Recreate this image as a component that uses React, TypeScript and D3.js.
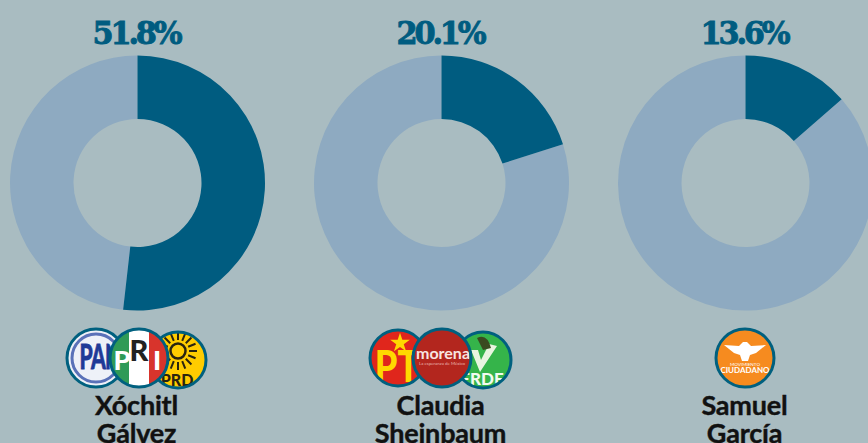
import React from "react";
import * as d3 from "d3";

const W = 868, H = 443;
const candidateFirst = ["Xóchitl", "Claudia", "Samuel"];
const candidateLast = ["Gálvez", "Sheinbaum", "García"];
const shares = [51.8, 20.1, 13.6];
const labels = ["51.8%", "20.1%", "13.6%"];
const centers = [137.5, 441.5, 745.5];

const arcGen = d3.arc<any>().innerRadius(64).outerRadius(127.5);
const pieGen = d3.pie<number>().sort(null);

const ring = "#00607f";
function Badge({ id, x, y, r, fill, children }: any) {
  return (
    <g transform={`translate(${x},${y})`}>
      <clipPath id={id}><circle r={r} /></clipPath>
      <circle r={r} fill={fill} />
      <g clipPath={`url(#${id})`}>{children}</g>
      <circle r={r} fill="none" stroke={ring} strokeWidth={3} />
    </g>
  );
}
const sans = "Lato, sans-serif";

export default function App() {
  return (
    <svg width={W} height={H} style={{ position: "absolute", left: 0, top: 0, display: "block" }}>
      <rect width={W} height={H} fill="#a9bcc1" />
      {shares.map((s, i) => {
        const arcs = pieGen([s, 100 - s]);
        return (
          <g key={i} transform={`translate(${centers[i]},183)`}>
            <path d={arcGen(arcs[1]) as string} fill="#8eaac1" />
            <path d={arcGen(arcs[0]) as string} fill="#005c80" />
            <text transform="translate(-1.5,-139) scale(0.95,1)" textAnchor="middle" fontFamily="'DejaVu Serif', serif" fontWeight={700} fontSize={32} letterSpacing={-3.4} fill="#005c80" stroke="#005c80" strokeWidth={0.9}>{labels[i]}</text>
          </g>
        );
      })}
      {candidateFirst.map((n, i) => (
        <text key={n} textAnchor="middle" fontFamily={sans} fontWeight={700} fontSize={27} letterSpacing={-0.2} fill="#111" stroke="#111" strokeWidth={0.4} transform="translate(-1,0)">
          <tspan x={centers[i]} y={415}>{n}</tspan>
          <tspan x={centers[i]} y={443}>{candidateLast[i]}</tspan>
        </text>
      ))}

      {/* PRD */}
      <Badge id="prd" x={178} y={360} r={28} fill="#ffcc00">
        <g stroke="#2a2410" strokeWidth={2}>
          {d3.range(16).map((k) => {
            const a = (k * Math.PI) / 8;
            return <line key={k} x1={11 * Math.cos(a)} y1={-9 + 11 * Math.sin(a)} x2={19 * Math.cos(a)} y2={-9 + 19 * Math.sin(a)} />;
          })}
        </g>
        <circle cy={-9} r={7.5} fill="none" stroke="#2a2410" strokeWidth={2.5} />
        <text x={-1} y={26} textAnchor="middle" fontFamily={sans} fontWeight={900} fontSize={16} fill="#2a2410">PRD</text>
      </Badge>
      {/* PAN */}
      <Badge id="pan" x={96} y={358} r={29} fill="#eef1f8">
        <circle r={24} fill="none" stroke="#5a71b8" strokeWidth={3} />
        <text transform="translate(4,11) scale(0.78,1.25)" textAnchor="middle" fontFamily={sans} fontWeight={900} fontSize={27} letterSpacing={-1} fill="#1f3a97" stroke="#1f3a97" strokeWidth={0.6}>PAN</text>
      </Badge>
      {/* PRI */}
      <Badge id="pri" x={139} y={358} r={29} fill="#ffffff">
        <rect x={-30} y={-30} width={20} height={60} fill="#2f9a57" />
        <rect x={10} y={-30} width={20} height={60} fill="#d8342c" />
        <text x={-17} y={12} textAnchor="middle" fontFamily={sans} fontWeight={900} fontSize={27} fill="#fff">P</text>
        <text x={0} y={3} textAnchor="middle" fontFamily={sans} fontWeight={900} fontSize={29} fill="#222">R</text>
        <text x={18} y={12} textAnchor="middle" fontFamily={sans} fontWeight={900} fontSize={27} fill="#fff">I</text>
      </Badge>

      {/* Verde */}
      <Badge id="verde" x={483} y={360} r={28} fill="#35b44a">
        <path d="M-12,-10 L-3,12 L14,-14 L6,-16 L-2,0 L-5,-10 Z" fill="#e8f5e0" />
        <path d="M-6,-22 Q4,-27 8,-12 L0,-10 Z" fill="#3a4a20" />
        <text x={-1} y={25} textAnchor="middle" fontFamily={sans} fontWeight={900} fontSize={17} fill="#f2fbef">ERDE</text>
      </Badge>
      {/* PT */}
      <Badge id="pt" x={398} y={358} r={28} fill="#e0261c">
        <path d={d3.symbol().type(d3.symbolStar).size(120)() as string} transform="translate(2,-15)" fill="#ffd800" />
        <text transform="translate(-1,24) scale(0.82,1)" textAnchor="middle" fontFamily={sans} fontWeight={900} fontSize={44} fill="#ffd800">PT</text>
      </Badge>
      {/* morena */}
      <Badge id="morena" x={442} y={358} r={29} fill="#b3261e">
        <text x={1} y={1} textAnchor="middle" fontFamily={sans} fontWeight={700} fontSize={16} fill="#f8e4e0">morena</text>
        <text x={0} y={7} textAnchor="middle" fontFamily={sans} fontSize={4.4} fill="#eab8b2">La esperanza de México</text>
      </Badge>

      {/* Movimiento Ciudadano */}
      <Badge id="mc" x={745} y={358} r={29} fill="#f68b1f">
        <path d="M-21,-13 L-6,-12 L-2,-16 L2,-16 L6,-12 L21,-13 L11,-5 L5,-3 L3,3 L-3,3 L-5,-3 L-11,-5 Z" fill="#fff" />
        <text x={0} y={8} textAnchor="middle" fontFamily={sans} fontSize={4.6} fill="#fff">MOVIMIENTO</text>
        <text x={0} y={15} textAnchor="middle" fontFamily={sans} fontWeight={700} fontSize={8} fill="#fff">CIUDADANO</text>
      </Badge>
    </svg>
  );
}
